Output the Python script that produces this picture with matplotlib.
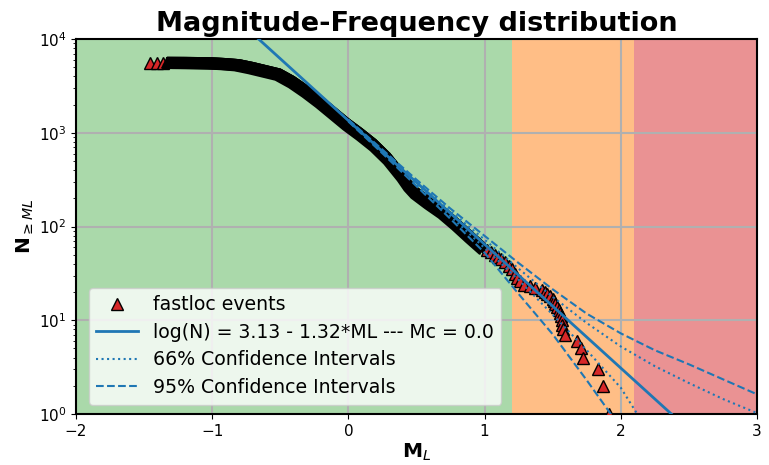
import numpy as np
import matplotlib
matplotlib.use("Agg")
import matplotlib.pyplot as plt
from matplotlib.transforms import offset_copy

# ---- data ----
# dense part of the cumulative distribution (heavily overlapping markers)
band_ml = [-1.33, -1.20, -1.10, -1.00, -0.90, -0.80, -0.70, -0.60, -0.50, -0.40,
           -0.30, -0.20, -0.10, 0.00, 0.10, 0.20, 0.30, 0.40, 0.45, 0.50,
           0.60, 0.70, 0.80, 0.90, 1.00]
band_n = [5560, 5550, 5530, 5495, 5395, 5248, 4898, 4519, 4169, 3467,
          2754, 2138, 1622, 1230, 960, 735, 530, 350, 275, 229,
          178, 141, 106, 78, 58]

# individually visible events
left_ml = [-1.455, -1.405, -1.36]
left_n = [5560, 5560, 5560]

tail_ml = [1.02, 1.05, 1.08, 1.10, 1.12, 1.15, 1.18, 1.20, 1.22, 1.24, 1.26, 1.29,
           1.33, 1.37, 1.42, 1.44, 1.46, 1.48, 1.50, 1.51, 1.52, 1.535, 1.545,
           1.555, 1.56, 1.565, 1.57, 1.575, 1.59, 1.675, 1.71, 1.725, 1.83, 1.87, 1.91]
tail_n = [56, 53, 50, 47, 45, 42, 38, 35, 31, 28, 26, 24,
          23, 22, 21, 20, 19, 18, 17, 16, 15, 14, 13,
          12, 11, 10, 9, 8, 7, 6, 5, 4, 3, 2, 1]

# Gutenberg-Richter fit
a_val = 3.13
b_val = 1.32
mc = 0.0
fit_ml = [-2.0, 3.0]

# confidence intervals (log10 N)
ci_ml = [0.0, 0.25, 0.5, 0.75, 1.0, 1.25, 1.5, 1.75, 2.0, 2.25, 2.5, 2.75, 3.0]
up95 = [3.14, 2.82, 2.50, 2.19, 1.90, 1.61, 1.33, 1.07, 0.86, 0.68, 0.53, 0.37, 0.21]
up66 = [3.135, 2.81, 2.48, 2.16, 1.86, 1.55, 1.25, 0.97, 0.72, 0.51, 0.33, 0.16, 0.01]
lo66 = [3.125, 2.79, 2.45, 2.11, 1.77, 1.43, 1.06, 0.68, 0.28, -0.30, -0.80, -1.30, -1.80]
lo95 = [3.12, 2.78, 2.43, 2.08, 1.72, 1.28, 0.85, 0.36, -0.15, -0.70, -1.20, -1.70, -2.20]

# magnitude zones
zones = [(-2.0, 1.2, 'tab:green', 0.4), (1.2, 2.1, 'tab:orange', 0.5), (2.1, 3.0, 'tab:red', 0.5)]

fig = plt.figure(figsize=(7.69, 4.65), dpi=100)
ax = fig.add_axes([0.0988, 0.1097, 0.8856, 0.8064])

for x0, x1, c, al in zones:
    ax.axvspan(x0, x1, color=c, alpha=al, lw=0, zorder=0)

ax.grid(True, which='major', color='#b0b0b0', lw=1.5, zorder=1)
ax.set_axisbelow(True)

mk = dict(marker='^', ms=8, mfc='tab:red', mec='k', mew=1.0, ls='none')
h_ev, = ax.plot(left_ml, left_n, zorder=3, **mk)

# the overlapping triangles of the dense part: sweep a triangle outline along the curve
half = 3.5
tri_offsets = []
for yy in np.arange(-half, half + 0.01, 1.0):
    hw = (half - yy) / 2.0
    tri_offsets.append((-hw, yy))
    tri_offsets.append((hw, yy))
    tri_offsets.append((0.0, yy))
for dx, dy in tri_offsets:
    tr = offset_copy(ax.transData, fig=fig, x=dx, y=dy, units='points')
    ax.plot(band_ml, band_n, color='k', lw=1.8, solid_capstyle='round',
            solid_joinstyle='round', transform=tr, zorder=4)

ax.plot(tail_ml, tail_n, zorder=5, **mk)

fx = np.array(fit_ml)
h_fit, = ax.plot(fx, 10 ** (a_val - b_val * fx), color='tab:blue', lw=2, zorder=6)
cm = np.array(ci_ml)
h66, = ax.plot(cm, 10 ** np.array(up66), color='tab:blue', ls=':', lw=1.5, zorder=6)
ax.plot(cm, 10 ** np.array(lo66), color='tab:blue', ls=':', lw=1.5, zorder=6)
h95, = ax.plot(cm, 10 ** np.array(up95), color='tab:blue', ls='--', lw=1.5, zorder=6)
ax.plot(cm, 10 ** np.array(lo95), color='tab:blue', ls='--', lw=1.5, zorder=6)

ax.set_yscale('log')
ax.set_xlim(-2, 3)
ax.set_ylim(1, 1e4)
ax.tick_params(labelsize=11)
ax.set_xticks([-2, -1, 0, 1, 2, 3])

ax.set_title('Magnitude-Frequency distribution', fontsize=19.5, fontweight='bold')
ax.set_xlabel('M$_L$', fontsize=14.5, fontweight='bold', labelpad=2)
ax.set_ylabel('N$_{\\geq ML}$', fontsize=14.5, fontweight='bold', labelpad=2)

ax.legend([h_ev, h_fit, h66, h95],
          ['fastloc events',
           'log(N) = %.2f - %.2f*ML --- Mc = %.1f' % (a_val, b_val, mc),
           '66% Confidence Intervals', '95% Confidence Intervals'],
          loc='lower left', fontsize=13.6, handlelength=2.2,
          bbox_to_anchor=(0.005, 0.0), labelspacing=0.45)

for s in ax.spines.values():
    s.set_linewidth(1.5)

fig.savefig('out.png', dpi=100)
